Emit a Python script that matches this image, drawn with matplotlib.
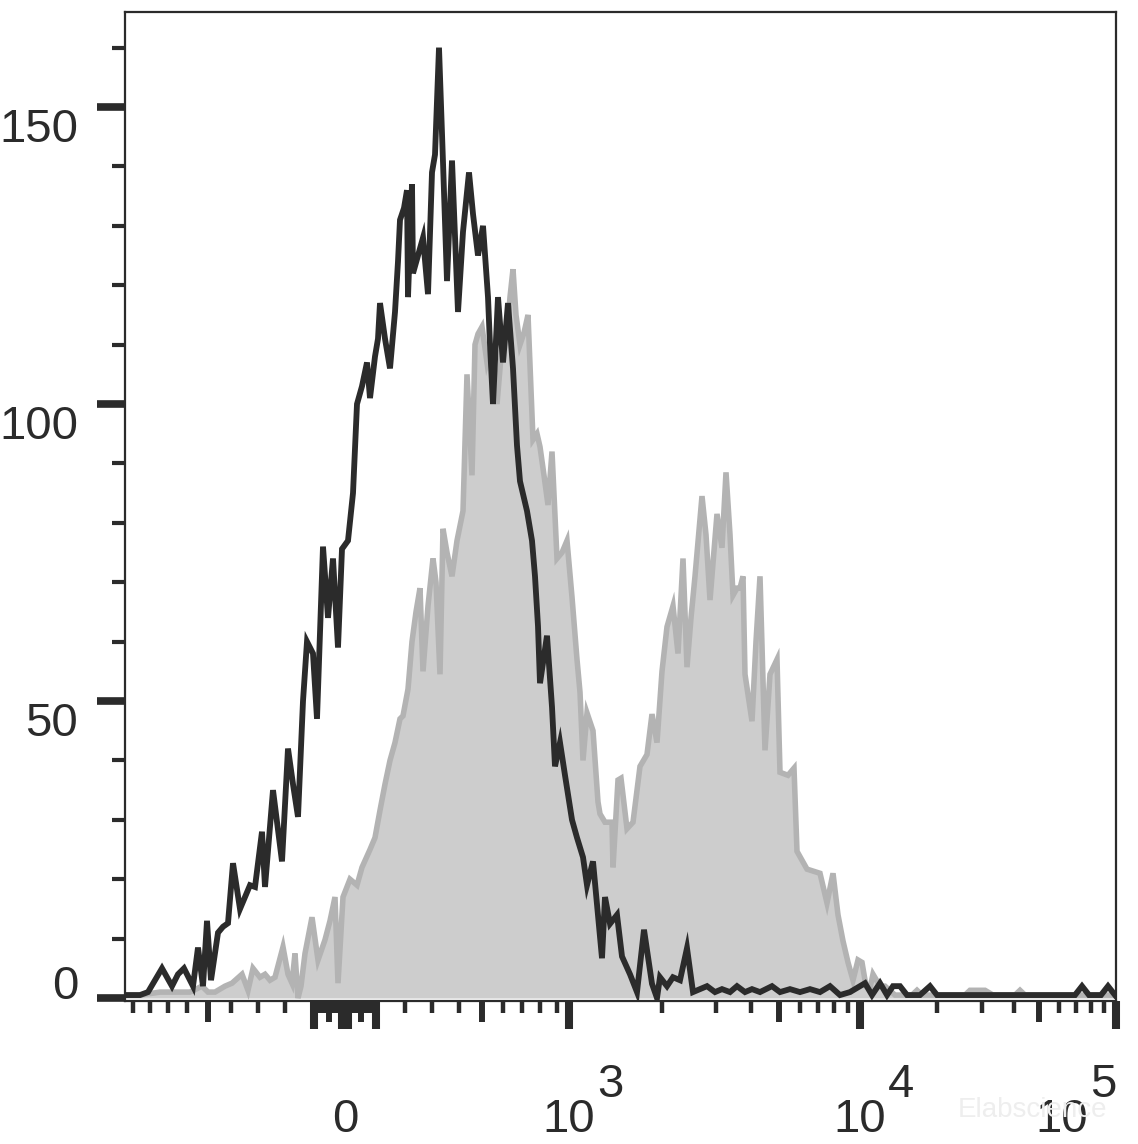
import numpy as np
import matplotlib
matplotlib.use("Agg")
import matplotlib.pyplot as plt
from matplotlib.transforms import ScaledTranslation

# ---------------- data (display channel, event count) ----------------
black_channel = [0, 15, 23, 30, 37, 47, 53, 59, 68, 73, 78, 82, 86, 93, 98, 103, 108, 115, 120, 125,
                 130, 137, 140, 148, 157, 163, 168, 173, 178, 182, 188, 192, 198, 203, 208, 213, 217,
                 223, 228, 232, 237, 242, 245, 250, 253, 255, 260, 265, 270, 273, 275, 279, 282, 283,
                 287, 288, 293, 298, 303, 307, 310, 314, 318, 322, 327, 333, 338, 344, 348, 353, 358,
                 363, 365, 368, 373, 378, 383, 388, 392, 395, 402, 407, 410, 413, 415, 422, 427, 430,
                 435, 440, 447, 452, 458, 462, 468, 473, 477, 480, 485, 492, 497, 505, 512, 519, 527,
                 532, 535, 542, 548, 555, 562, 568, 575, 582, 590, 597, 605, 612, 620, 627, 635, 647,
                 655, 665, 675, 685, 695, 705, 715, 725, 740, 747, 755, 762, 768, 775, 782, 795, 805,
                 812, 830, 875, 950, 957, 964, 976, 983, 990]
black_count = [0.5, 0.5, 1, 3, 5, 2, 4, 5, 2, 8.5, 2, 13, 3, 11, 12, 12.6, 22.7, 15, 17, 19,
               18.7, 28, 18.7, 35, 23, 42, 36, 30.5, 50, 60, 58, 47, 76, 64, 74, 59, 75.6,
               77, 85, 100, 103, 107, 101, 108, 111, 117, 111, 106, 115.5, 124, 131, 133, 136, 118,
               137, 122, 125, 128, 118.5, 139, 142, 160, 140.7, 120.7, 141, 115.5, 129, 139, 132, 125, 130,
               118, 110, 100, 118, 107, 117, 106, 93, 87, 82, 77, 71, 62.6, 53, 61, 49, 39,
               43, 37.5, 30, 27, 23.7, 19, 23, 14, 6.7, 17, 12.5, 14, 7, 4, 1, 11.5, 2.4,
               0, 3.5, 2, 3.5, 3, 8.4, 1, 1.5, 2, 1, 1.5, 1, 2, 1, 1.5, 1, 2,
               1, 1.5, 1, 1.5, 1, 2, 0.5, 1, 2.5, 0.5, 2.5, 0.5, 2, 2, 0.5, 0.5, 2,
               0.5, 0.5, 0.5, 0.5, 2, 0.5, 0.5, 2, 0.5]

grey_channel = [0, 15, 35, 55, 65, 77, 83, 90, 95, 100, 107, 117, 123, 128, 135, 140, 145, 150, 158,
                163, 167, 170, 173, 176, 180, 187, 193, 200, 205, 210, 213, 218, 225, 232, 237, 245,
                250, 255, 260, 265, 270, 275, 278, 283, 287, 291, 295, 298, 303, 308, 311, 315, 318,
                322, 327, 332, 338, 342, 347, 350, 353, 357, 362, 367, 372, 377, 382, 385, 388, 391,
                395, 399, 403, 408, 412, 415, 419, 423, 427, 432, 437, 442, 447, 452, 455, 458, 462,
                468, 473, 475, 480, 487, 488, 493, 496, 502, 508, 515, 522, 527, 532, 537, 542, 548,
                553, 558, 562, 566, 570, 577, 581, 585, 592, 597, 601, 605, 608, 612, 615, 618, 620,
                627, 631, 635, 640, 645, 652, 655, 663, 669, 672, 682, 695, 702, 708, 713, 718, 723,
                728, 733, 737, 741, 745, 748, 755, 760, 770, 787, 792, 797, 840, 845, 853, 860, 868,
                890, 895, 900, 990]
grey_count = [0.5, 0.5, 1, 1, 1, 2, 1, 1, 1.5, 2, 2.5, 4, 1.3, 5, 3.5, 4, 3, 3.5, 8.6,
              4, 2.5, 7.5, 0, 2, 7.5, 13.6, 6.4, 9.8, 13, 17, 2.5, 17, 20, 19, 22, 25,
              27, 31.6, 36, 40, 43, 47, 47.5, 52, 60, 65, 69, 55, 66, 74, 70, 54.5, 79,
              75, 71, 77, 82, 105, 88, 110, 111.8, 113, 107, 110, 100, 110, 112, 118, 122.7, 115,
              110, 112, 115, 94, 95, 92.8, 88, 83, 92, 74, 75, 77, 67.5, 57, 51.5, 40, 48,
              45, 33, 31, 29.6, 29.6, 22, 36.7, 37, 28.5, 29.6, 39, 41, 47.8, 43, 55, 62.5, 66,
              58, 74, 55.7, 64, 71, 84.5, 78, 67, 81.5, 75.8, 88.5, 78, 67.8, 69, 69, 71, 54.5,
              46.6, 60, 71, 41.7, 54.5, 57, 38, 37.5, 38.7, 24.7, 21.7, 21, 16, 21, 14, 9.6, 6,
              3, 6.4, 6, 2, 1.7, 4, 2, 2, 0.5, 0.5, 1.3, 0.5, 0.5, 1.3, 1.3, 1.3, 0.5,
              0.5, 1.3, 0.5, 0.5]

# biexponential display calibration (intensity -> channel distance from zero)
cal_values = [0, 100, 200, 300, 400, 500, 600, 700, 800, 900, 1000, 2000, 3000, 5000, 1e4, 1e5]
cal_offsets = [0, 31, 60, 87, 114, 137, 158, 177, 195, 212, 224, 317, 371, 434, 515, 771]
zero_channel = 220

y_major = [0, 50, 100, 150]
y_minor = [10, 20, 30, 40, 60, 70, 80, 90, 110, 120, 130, 140, 160]
x_major_vals = [-100, -10, 0, 10, 100, 1e3, 1e4, 1e5]
x_medium_vals = [-500, -50, 50, 500, 5e3, 5e4]
x_minor_vals = ([-900, -800, -700, -600, -400, -300, -200]
                + [k * 10 for k in range(-9, 10) if k not in (-5, -1, 0, 1, 5)]
                + [200, 300, 400, 600, 700, 800, 900]
                + [2e3, 3e3, 4e3, 6e3, 7e3, 8e3, 9e3]
                + [2e4, 3e4, 4e4, 6e4, 7e4, 8e4, 9e4])
x_labels = [(0, "0", ""), (1e3, "10", "3"), (1e4, "10", "4"), (1e5, "10", "5")]


def to_channel(v):
    v = np.asarray(v, dtype=float)
    scale = 150.0
    t = np.arcsinh(np.abs(v) / scale)
    off = np.interp(t, np.arcsinh(np.asarray(cal_values) / scale), cal_offsets)
    return zero_channel + np.sign(v) * off


# ---------------- figure ----------------
DPI = 100
W, H = 1138, 1144
fig = plt.figure(figsize=(W / DPI, H / DPI), dpi=DPI)
ax_l, ax_r, ax_t, ax_b = 125, 1116, 12, 1001
ax = fig.add_axes([ax_l / W, 1 - ax_b / H, (ax_r - ax_l) / W, (ax_b - ax_t) / H])

dark = "#2b2b2b"
fill_c = "#cdcdcd"
edge_c = "#b3b3b3"
font = ["Liberation Sans", "DejaVu Sans"]
fs = 34

ax.fill_between(grey_channel, 0, grey_count, color=fill_c, lw=0, zorder=1)
ax.plot(grey_channel, grey_count, color=edge_c, lw=4.0, solid_joinstyle="miter", zorder=2)
ax.plot(black_channel, black_count, color=dark, lw=4.2, solid_joinstyle="miter", zorder=3)

ax.set_xlim(0, 991)
ax.set_ylim(-0.5, 166)

for s in ax.spines.values():
    s.set_color(dark)
    s.set_linewidth(1.6)

# y ticks
ax.set_yticks(y_major)
ax.set_yticks(y_minor, minor=True)
ax.tick_params(axis="y", which="major", direction="out", length=20, width=5.5, color=dark, labelleft=False)
ax.tick_params(axis="y", which="minor", direction="out", length=9.5, width=3.0, color=dark)

# x ticks
ax.set_xticks(to_channel(x_major_vals))
ax.set_xticks(to_channel(x_minor_vals), minor=True)
ax.tick_params(axis="x", which="major", direction="out", length=20.5, width=5.8, color=dark, labelbottom=False)
ax.tick_params(axis="x", which="minor", direction="out", length=8.6, width=3.2, color=dark)
axh = ax_b - ax_t
ax.vlines(to_channel(x_medium_vals), 0, -21 / axh, transform=ax.get_xaxis_transform(),
          colors=dark, linewidth=4.3, clip_on=False, zorder=5)


def off(dx, dy):
    return ScaledTranslation(dx / DPI, dy / DPI, fig.dpi_scale_trans)


# y tick labels
for v in y_major:
    dy = -1 if v == 0 else -35
    ax.text((78 - ax_l) / (ax_r - ax_l), v, str(v), transform=ax.get_yaxis_transform() + off(0, dy),
            ha="right", va="baseline", fontsize=fs, family=font, color=dark)

# x tick labels (base and raised exponent)
for v, base, exp in x_labels:
    c = float(to_channel(v))
    shift = -54 if v == 1e5 else 0
    ax.text(c, 0, base, transform=ax.get_xaxis_transform() + off(shift, -131),
            ha="center", va="baseline", fontsize=fs, family=font, color=dark)
    if exp:
        ax.text(c, 0, exp, transform=ax.get_xaxis_transform() + off(shift + 28, -96),
                ha="left", va="baseline", fontsize=fs, family=font, color=dark)

# faint watermark
fig.text(958 / W, 1 - 1117 / H, "Elabscience", fontsize=20, family=font, color="#eeeeee",
         ha="left", va="baseline")

fig.savefig("out.png", dpi=DPI, facecolor="white")
